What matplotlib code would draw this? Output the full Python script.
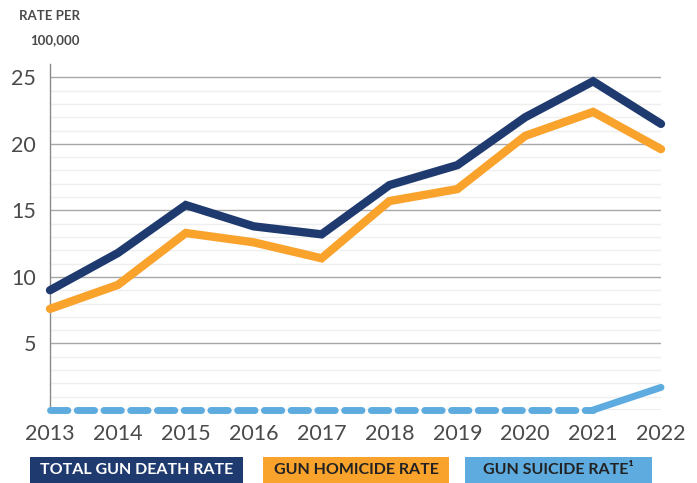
import matplotlib
matplotlib.use('Agg')
import matplotlib.pyplot as plt
from matplotlib.patches import Rectangle

years = [2013, 2014, 2015, 2016, 2017, 2018, 2019, 2020, 2021, 2022]
total_rate = [9.0, 11.8, 15.4, 13.8, 13.2, 16.9, 18.4, 22.0, 24.7, 21.5]
homicide_rate = [7.6, 9.4, 13.3, 12.6, 11.4, 15.7, 16.6, 20.6, 22.4, 19.6]
suicide_rate = [0, 0, 0, 0, 0, 0, 0, 0, 0, 1.7]
yticks = [5, 10, 15, 20, 25]
legend_labels = ['TOTAL GUN DEATH RATE', 'GUN HOMICIDE RATE', 'GUN SUICIDE RATE\u00b9']

navy = '#1f3a6e'
orange = '#f9a22c'
lblue = '#5eacdf'
txt = '#4a4a4a'

plt.rcParams['font.family'] = ['Lato', 'DejaVu Sans']

W, H = 697, 483
fig = plt.figure(figsize=(W/100, H/100), dpi=100)
x0, x1, y0, y1 = 50, 661, 410, 64
ax = fig.add_axes([x0/W, (H-y0)/H, (x1-x0)/W, (y0-y1)/H])
ax.set_xlim(2013, 2022)
ax.set_ylim(0, 26)

# grid lines
for v in range(1, 26):
    if v % 5 == 0:
        continue
    ax.axhline(v, color='#efefef', lw=1.0, zorder=0)
for v in [0] + yticks:
    ax.axhline(v, color='#a8a8a8', lw=1.0, zorder=1)

for s in ['top', 'right', 'bottom']:
    ax.spines[s].set_visible(False)
ax.spines['left'].set_color('#8a8a8a')
ax.spines['left'].set_linewidth(1.0)

ax.plot(years, total_rate, color=navy, lw=6, solid_capstyle='round',
        solid_joinstyle='miter', clip_on=False, zorder=5)
ax.plot(years, homicide_rate, color=orange, lw=6, solid_capstyle='round',
        solid_joinstyle='miter', clip_on=False, zorder=4)
ax.plot(years[:9], suicide_rate[:9], color=lblue, lw=5, dashes=(2.5, 1.35),
        dash_capstyle='round', clip_on=False, zorder=3)
ax.plot(years[8:], suicide_rate[8:], color=lblue, lw=5, solid_capstyle='round',
        clip_on=False, zorder=3)

ax.set_xticks(years)
ax.set_xticklabels([str(y) for y in years])
ax.set_yticks(yticks)
ax.tick_params(axis='both', length=0, colors=txt, labelsize=15.5)
ax.tick_params(axis='x', pad=10)
ax.tick_params(axis='y', pad=10)

fig.text(80/W, 1-16/H, 'RATE PER', ha='right', va='center', fontsize=9.5,
         color=txt, fontweight='bold')
fig.text(80/W, 1-40/H, '100,000', ha='right', va='center', fontsize=9.5,
         color=txt, fontweight='bold')

# legend boxes
boxes = [(30, 243, navy, 'white'), (263, 449, orange, '#222222'),
         (465, 652, lblue, '#222222')]
for (bx0, bx1, fc, tc), lab in zip(boxes, legend_labels):
    fig.patches.append(Rectangle((bx0/W, 0), (bx1-bx0)/W, 26/H,
                                 transform=fig.transFigure, facecolor=fc,
                                 edgecolor='none'))
    fig.text((bx0+bx1)/2/W, 1-470/H, lab, ha='center', va='center',
             fontsize=11.5, fontweight='bold', color=tc)

fig.savefig('out.png', dpi=100)
